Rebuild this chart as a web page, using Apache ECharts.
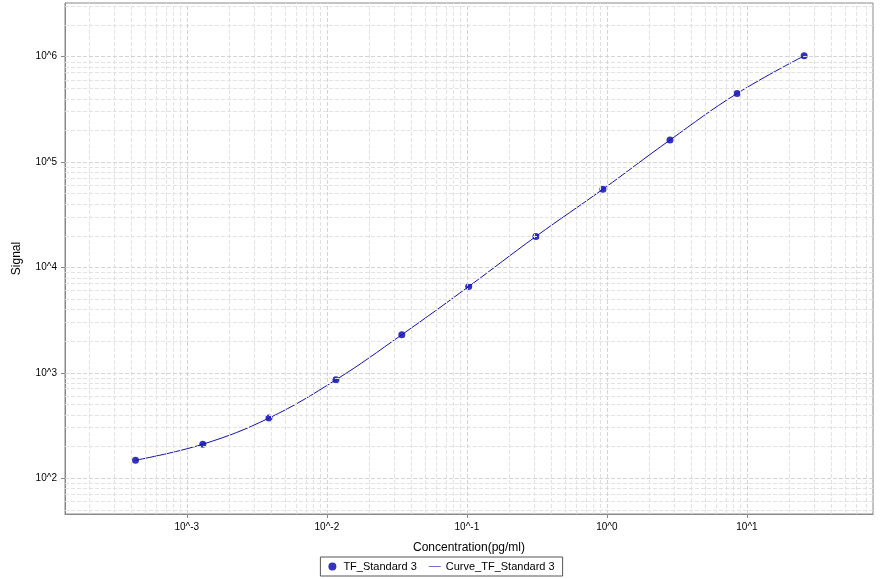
<!DOCTYPE html>
<html><head><meta charset="utf-8">
<script src="https://cdn.jsdelivr.net/npm/echarts@6/dist/echarts.min.js"></script>
<style>html,body{margin:0;background:#fff}#c{width:883px;height:579px}</style>
</head><body><div id="c"></div>
<script>
const conc = [4.3e-4, 1.3e-3, 3.86e-3, 0.0116, 0.0343, 0.103, 0.311, 0.936, 2.82, 8.5, 25.6];
const signal = [148, 210, 372, 858, 2300, 6590, 19700, 55300, 162000, 448000, 1020000];
const xDecades = [-4, -3, -2, -1, 0, 1];
const yDecades = [1, 2, 3, 4, 5, 6];

const pts = conc.map((c, i) => [Math.log10(c), Math.log10(signal[i])]);
const xMin = -3.87, xMax = 1.9, yMin = 1.66, yMax = 6.51;

// minor log grid lines (2..9 per decade)
const minorX = [], minorY = [];
xDecades.forEach(d => { for (let k = 2; k <= 9; k++) { const v = d + Math.log10(k); if (v > xMin && v < xMax) minorX.push({ xAxis: v }); } });
yDecades.forEach(d => { for (let k = 2; k <= 9; k++) { const v = d + Math.log10(k); if (v > yMin && v < yMax) minorY.push({ yAxis: v }); } });
const xMajors = xDecades.filter(v => v > xMin && v < xMax);
const yMajors = yDecades.filter(v => v > yMin && v < yMax);
const majorX = xMajors.map(v => ({ xAxis: v }));
const majorY = yMajors.map(v => ({ yAxis: v }));

const chart = echarts.init(document.getElementById('c'));
const lab = v => '10^' + Math.round(v);
chart.setOption({
  animation: false,
  textStyle: { fontFamily: 'Arial, Liberation Sans, sans-serif' },
  grid: { left: 65, right: 10, top: 3, bottom: 65, show: true, borderColor: '#888', borderWidth: 1 },
  legend: {
    bottom: 3, left: 'center', itemGap: 12, borderColor: '#555', borderWidth: 1, padding: [4, 8],
    textStyle: { fontSize: 11, color: '#000' },
    data: [{ name: 'TF_Standard 3', icon: 'circle' }, { name: 'Curve_TF_Standard 3', icon: 'path://M0,5L20,5L20,6L0,6Z' }],
    itemWidth: 12, itemHeight: 8
  },
  xAxis: {
    type: 'value', min: xMin, max: xMax,
    name: 'Concentration(pg/ml)', nameLocation: 'middle', nameGap: 28, nameTextStyle: { fontSize: 12, color: '#000' },
    axisLine: { onZero: false, lineStyle: { color: '#888' } },
    axisTick: { show: true, length: 4, customValues: xMajors, lineStyle: { color: '#888' } },
    splitLine: { show: false },
    axisLabel: { fontSize: 10, color: '#000', customValues: xMajors, formatter: lab }
  },
  yAxis: {
    type: 'value', min: yMin, max: yMax,
    name: 'Signal', nameLocation: 'middle', nameGap: 42, nameTextStyle: { fontSize: 12, color: '#000' },
    axisLine: { show: true, onZero: false, lineStyle: { color: '#888' } },
    axisTick: { show: true, length: 4, customValues: yMajors, lineStyle: { color: '#888' } },
    splitLine: { show: false },
    axisLabel: { fontSize: 10, color: '#000', customValues: yMajors, formatter: lab }
  },
  series: [
    {
      type: 'line', data: [], silent: true,
      markLine: { symbol: 'none', silent: true, label: { show: false },
        lineStyle: { color: '#e2e2e2', type: 'dashed', width: 1 }, data: minorX.concat(minorY) }
    },
    {
      type: 'line', data: [], silent: true,
      markLine: { symbol: 'none', silent: true, label: { show: false },
        lineStyle: { color: '#d4d4d4', type: 'dashed', width: 1 }, data: majorX.concat(majorY) }
    },
    {
      name: 'Curve_TF_Standard 3', type: 'line', data: pts, smooth: 0.4, showSymbol: false,
      lineStyle: { color: '#1010b0', width: 1 }, itemStyle: { color: '#1010b0' }
    },
    {
      name: 'TF_Standard 3', type: 'scatter', data: pts, symbolSize: 7,
      itemStyle: { color: '#0000b0' }
    }
  ]
});
</script></body></html>
